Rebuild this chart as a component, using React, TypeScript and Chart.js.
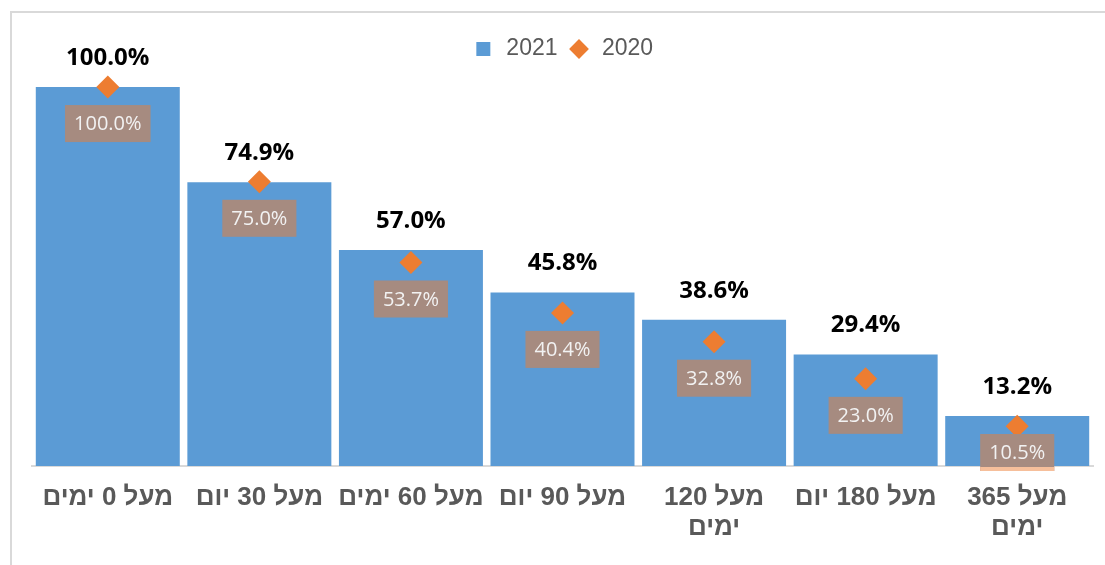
import React, { useEffect, useRef } from "react";
import { Chart, registerables } from "chart.js";

Chart.register(...registerables);

const categories: (string | string[])[] = [
  "מעל 0 ימים",
  "מעל 30 יום",
  "מעל 60 ימים",
  "מעל 90 יום",
  ["מעל 120", "ימים"],
  "מעל 180 יום",
  ["מעל 365", "ימים"],
];
const values2021 = [100.0, 74.9, 57.0, 45.8, 38.6, 29.4, 13.2];
const values2020 = [100.0, 75.0, 53.7, 40.4, 32.8, 23.0, 10.5];
const seriesNames = ["2021", "2020"];

const BAR_COLOR = "#5B9BD5";
const POINT_COLOR = "#ED7D31";
const BOX_COLOR = "#A68B80";

const labelPlugin = {
  id: "valueLabels",
  afterDatasetsDraw(chart: any) {
    const { ctx, chartArea } = chart;
    const barMeta = chart.getDatasetMeta(0);
    const ptMeta = chart.getDatasetMeta(1);
    ctx.save();
    ctx.textAlign = "center";
    ctx.textBaseline = "middle";
    ctx.font = 'bold 24px "Open Sans", "Liberation Sans", sans-serif';
    ctx.fillStyle = "#000000";
    barMeta.data.forEach((bar: any, i: number) => {
      ctx.fillText(values2021[i].toFixed(1) + "%", bar.x, bar.y - 29);
    });
    ctx.font = '20px "Open Sans", "Liberation Sans", sans-serif';
    ptMeta.data.forEach((pt: any, i: number) => {
      const text = values2020[i].toFixed(1) + "%";
      const w = ctx.measureText(text).width + 18;
      const h = 37;
      const top = Math.min(pt.y + 18, chartArea.bottom + 5 - h);
      ctx.fillStyle = BOX_COLOR;
      ctx.fillRect(pt.x - w / 2, top, w, h);
      const axisY = chartArea.bottom + 1;
      if (top + h > axisY) {
        ctx.fillStyle = "#F6BF9B";
        ctx.fillRect(pt.x - w / 2, axisY, w, top + h - axisY);
      }
      ctx.fillStyle = "#F2F2F2";
      ctx.fillText(text, pt.x, top + h / 2 + 1);
    });
    ctx.restore();
  },
};

export default function App() {
  const canvasRef = useRef<HTMLCanvasElement | null>(null);

  useEffect(() => {
    if (!canvasRef.current) return;
    const chart = new Chart(canvasRef.current, {
      type: "bar",
      data: {
        labels: categories as any,
        datasets: [
          {
            type: "bar",
            label: seriesNames[0],
            data: values2021,
            backgroundColor: BAR_COLOR,
            borderWidth: 0,
            barPercentage: 0.95,
            categoryPercentage: 1.0,
            pointStyle: "rect",
            order: 2,
          } as any,
          {
            type: "line",
            label: seriesNames[1],
            data: values2020,
            showLine: false,
            pointStyle: "rectRot",
            pointRadius: 11.5,
            pointHoverRadius: 11.5,
            pointBackgroundColor: POINT_COLOR,
            pointBorderColor: POINT_COLOR,
            pointBorderWidth: 0,
            backgroundColor: POINT_COLOR,
            borderColor: POINT_COLOR,
            borderWidth: 0,
            order: 1,
          } as any,
        ],
      },
      options: {
        animation: false,
        responsive: true,
        maintainAspectRatio: false,
        layout: { padding: { top: 27.5, left: 32, right: 12, bottom: 5 } },
        plugins: {
          tooltip: { enabled: false },
          legend: {
            position: "top",
            labels: {
              usePointStyle: true,
              boxHeight: 14,
              padding: 10,
              color: "#595959",
              font: { family: '"Liberation Sans", Arial, sans-serif', size: 23 },
              sort: (a: any, b: any) => a.datasetIndex - b.datasetIndex,
            },
          },
        },
        scales: {
          x: {
            grid: { display: false, drawTicks: false },
            border: { display: true, color: "#D9D9D9", width: 2 },
            ticks: {
              padding: 17,
              color: "#595959",
              font: {
                family: '"Liberation Sans", Arial, sans-serif',
                size: 26,
                weight: "bold",
                lineHeight: 30 / 26,
              },
              maxRotation: 0,
              autoSkip: false,
            },
          },
          y: {
            display: false,
            min: 0,
            max: 104.37,
          },
        },
      },
      plugins: [labelPlugin],
    });
    return () => chart.destroy();
  }, []);

  return (
    <div
      style={{
        position: "fixed",
        left: 0,
        top: 0,
        width: 1105,
        height: 565,
        background: "#ffffff",
        overflow: "hidden",
      }}
    >
      <div
        style={{
          position: "absolute",
          left: 10,
          top: 11,
          width: 1120,
          height: 600,
          border: "2px solid #D9D9D9",
          boxSizing: "border-box",
        }}
      />
      <canvas ref={canvasRef} style={{ position: "absolute", left: 0, top: 0 }} />
    </div>
  );
}
